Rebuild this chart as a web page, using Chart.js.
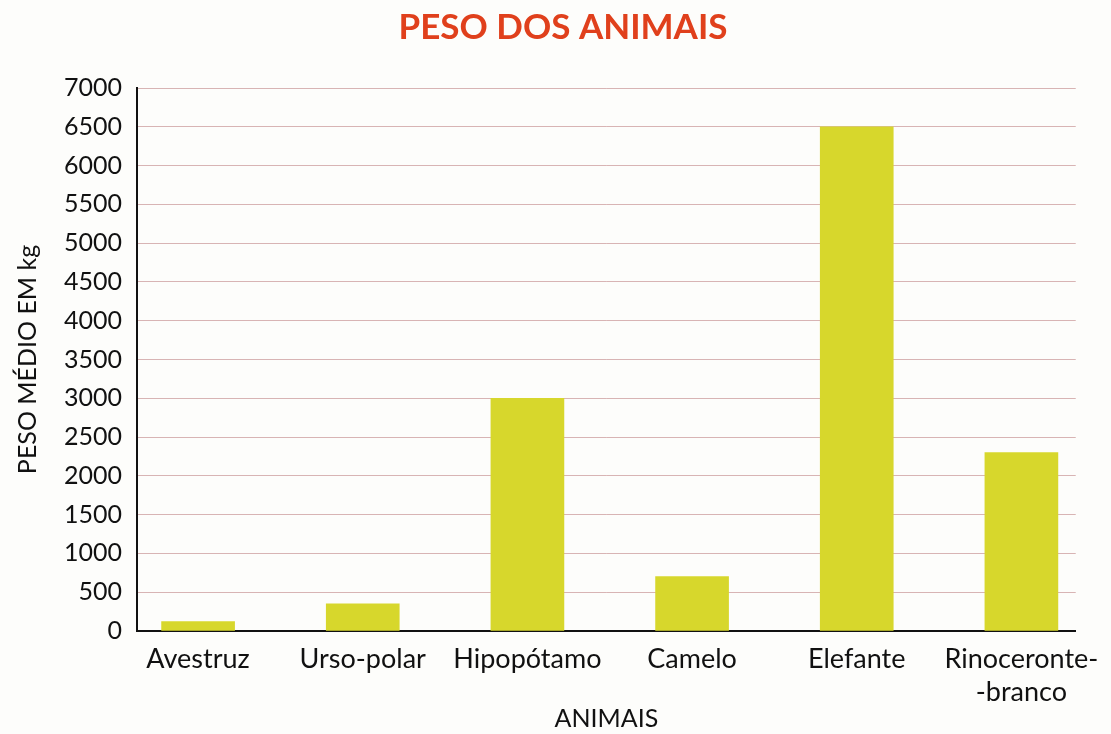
<!DOCTYPE html>
<html>
<head>
<meta charset="utf-8">
<script src="https://cdn.jsdelivr.net/npm/chart.js@4"></script>
<style>
  html, body { margin: 0; padding: 0; background: #fdfdfb; }
  #wrap { width: 1111px; height: 734px; }
</style>
</head>
<body>
<div id="wrap"><canvas id="pesoChart"></canvas></div>
<script>
// data
const animais = ["Avestruz", "Urso-polar", "Hipopótamo", "Camelo", "Elefante", "Rinoceronte-branco"];
const rotulos = ["Avestruz", "Urso-polar", "Hipopótamo", "Camelo", "Elefante", ["Rinoceronte-", "-branco"]];
const pesos = [120, 350, 3000, 700, 6500, 2300]; // kg
const yTicks = [0, 500, 1000, 1500, 2000, 2500, 3000, 3500, 4000, 4500, 5000, 5500, 6000, 6500, 7000];

const fonte = "Lato, 'Liberation Sans', sans-serif";
const canvas = document.getElementById("pesoChart");

// title in the picture sits a bit right of the canvas centre
const shiftTitle = {
  id: "shiftTitle",
  afterLayout(chart) {
    if (chart.titleBlock) chart.titleBlock.right += 44;
  },
};

const chart = new Chart(canvas, {
  type: "bar",
  data: {
    datasets: [
      {
        label: "Peso médio",
        data: animais.map((a, i) => ({ x: i, y: pesos[i] })),
        backgroundColor: "#d7d72c",
        borderWidth: 0,
        barThickness: 73,
      },
    ],
  },
  plugins: [shiftTitle],
  options: {
    responsive: true,
    maintainAspectRatio: false,
    animation: false,
    layout: { padding: { left: 0, top: 0, bottom: 0, right: 29 } },
    plugins: {
      legend: { display: false },
      tooltip: { enabled: false },
      title: {
        display: true,
        text: "PESO DOS ANIMAIS",
        color: "#e0401c",
        font: { family: fonte, size: 35, weight: "bold", lineHeight: 1.2 },
        padding: { top: 7, bottom: 39 },
      },
    },
    scales: {
      x: {
        type: "linear",
        offset: false,
        min: -0.371,
        max: 5.33,
        grid: { display: false, drawTicks: false },
        border: { display: true, color: "#111", width: 2 },
        afterBuildTicks: (axis) => {
          axis.ticks = animais.map((a, i) => ({ value: i }));
        },
        afterFit: (axis) => { axis.height = 103; },
        ticks: {
          autoSkip: false,
          maxRotation: 0,
          padding: 11,
          color: "#111",
          font: { family: fonte, size: 27, lineHeight: 1.25 },
          callback: (v) => rotulos[v],
        },
        title: {
          display: true,
          text: "ANIMAIS",
          color: "#111",
          font: { family: fonte, size: 25, lineHeight: 1.2 },
          padding: { top: 0, bottom: 0 },
        },
      },
      y: {
        min: 0,
        max: 7000,
        afterBuildTicks: (axis) => {
          axis.ticks = yTicks.map((v) => ({ value: v }));
        },
        afterFit: (axis) => { axis.width = 137; },
        grid: { color: "#d8b4b4", lineWidth: 1, drawTicks: false },
        border: { display: true, color: "#111", width: 2 },
        ticks: {
          padding: 15,
          color: "#111",
          font: { family: fonte, size: 25 },
          callback: (v) => String(v),
        },
        title: {
          display: true,
          text: "PESO MÉDIO EM kg",
          color: "#111",
          font: { family: fonte, size: 25, lineHeight: 1.2 },
          padding: { top: 13, bottom: 0 },
        },
      },
    },
  },
});
</script>
</body>
</html>
